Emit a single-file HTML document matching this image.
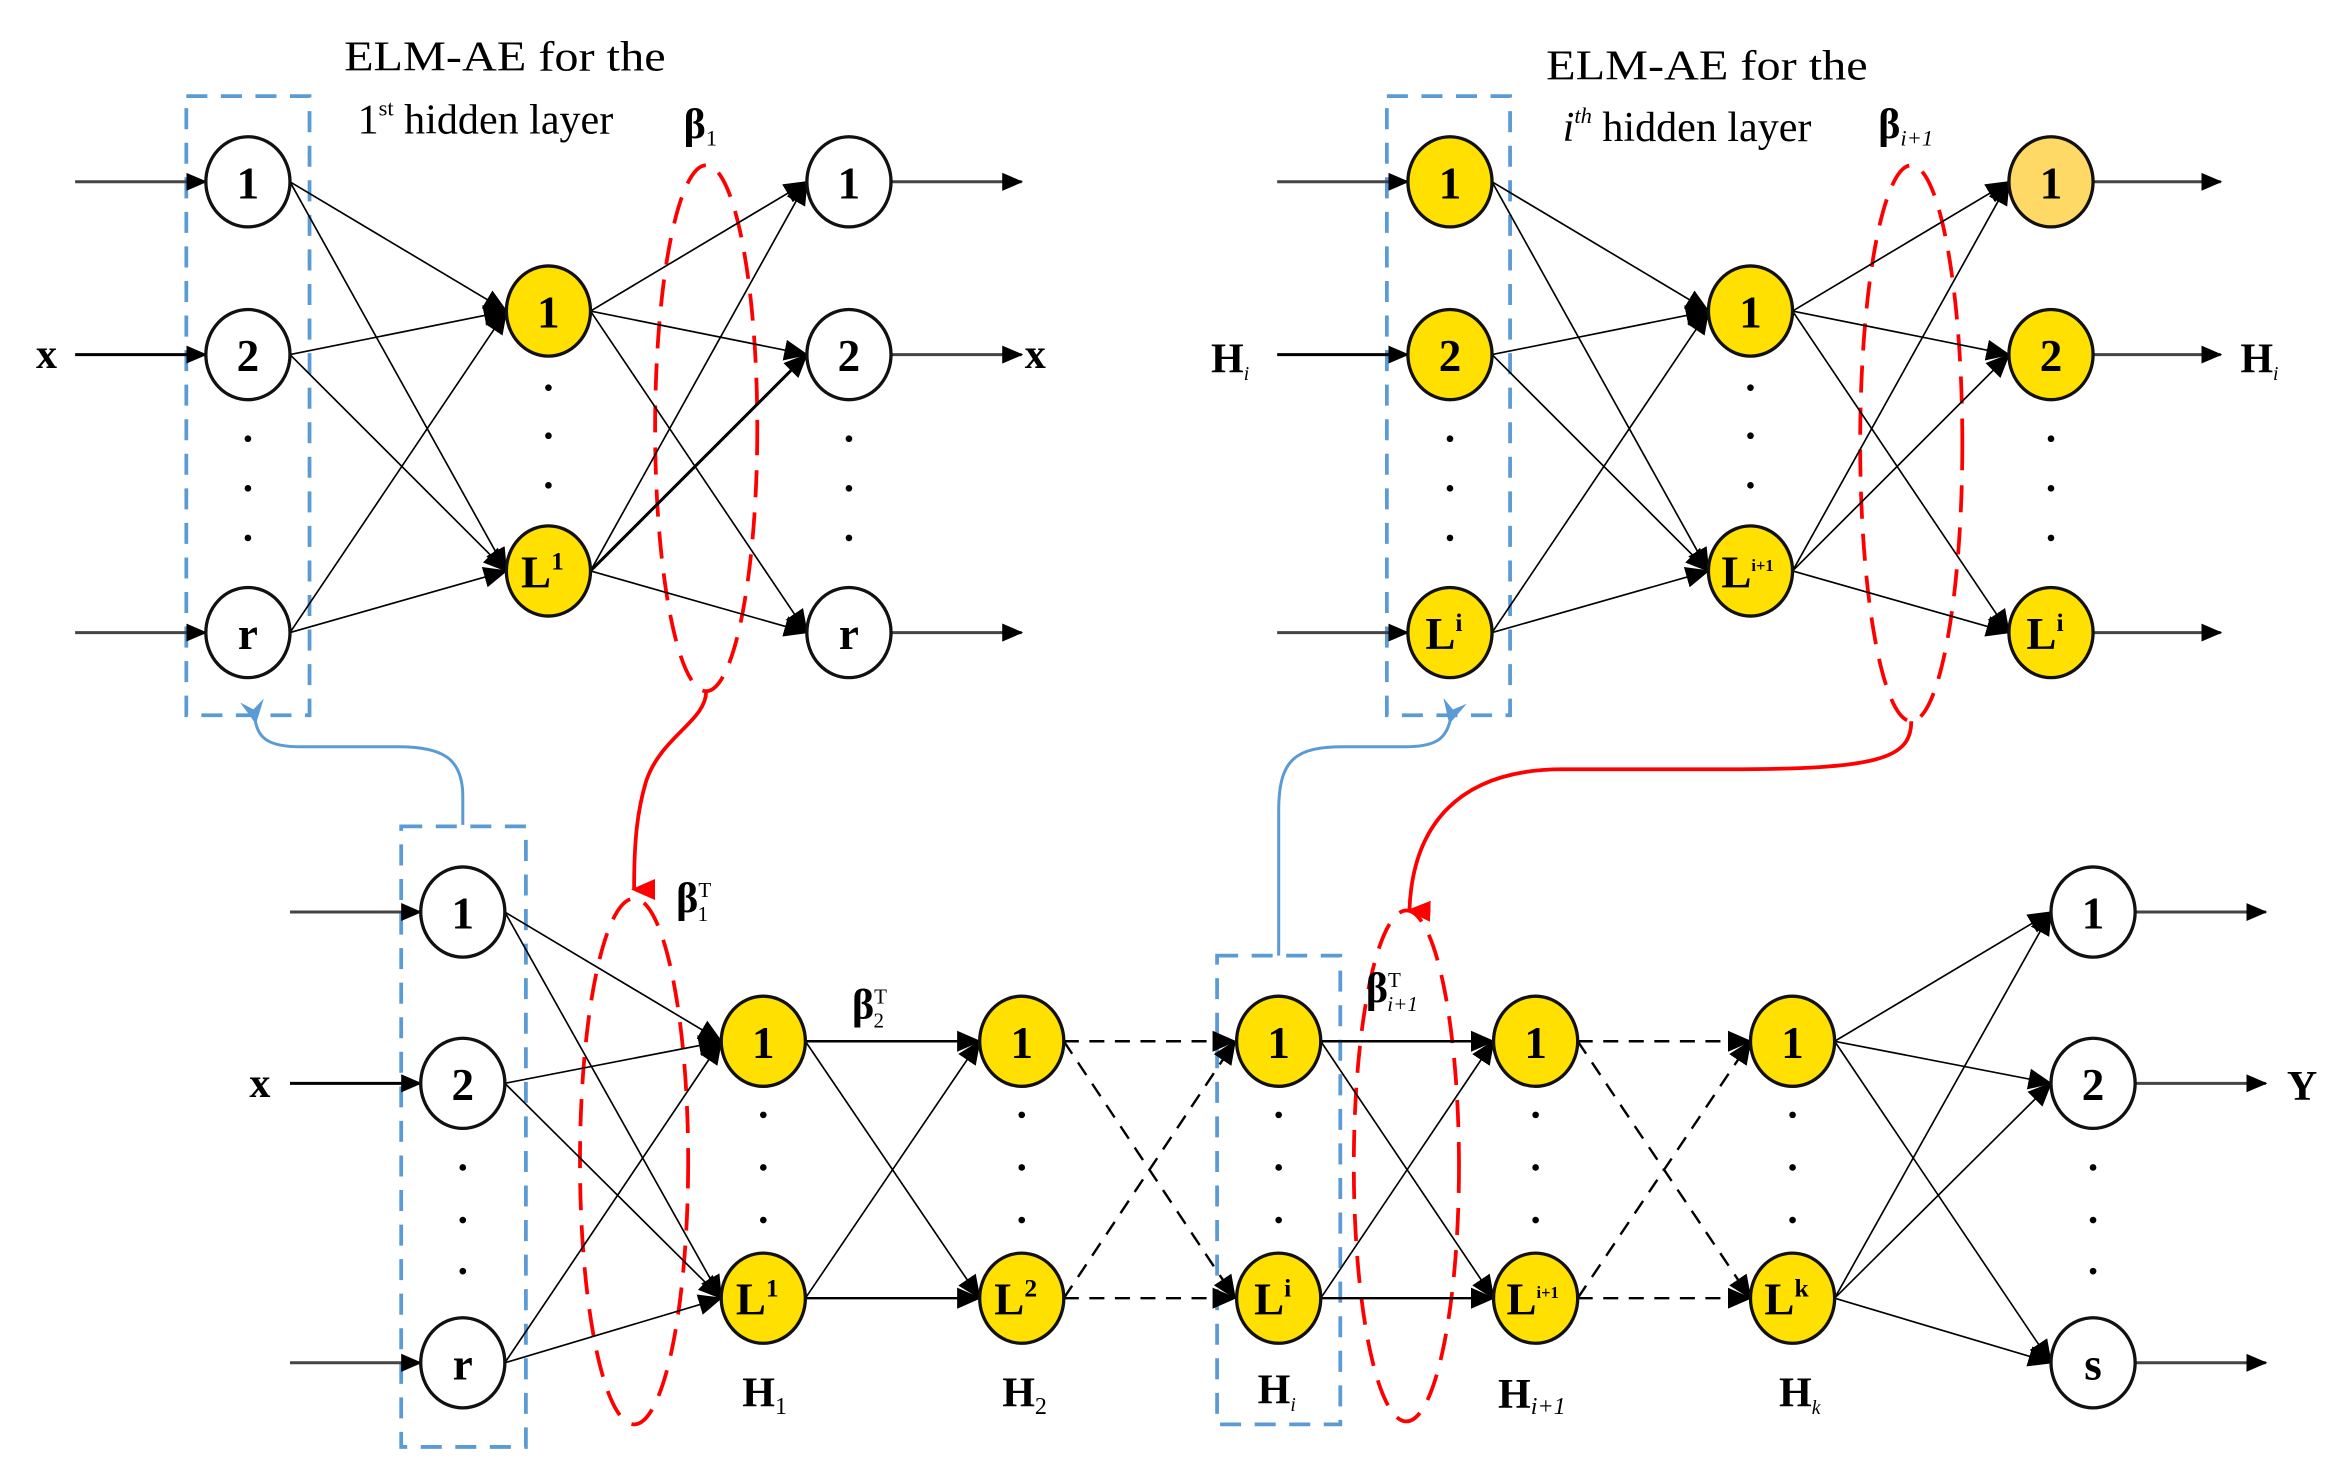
<!DOCTYPE html>
<html><head><meta charset="utf-8"><style>
html,body{margin:0;padding:0;background:#fff;}
svg{display:block;}
text{font-family:"Liberation Serif",serif;}
.n{font-weight:bold;font-size:30px;text-anchor:middle;font-family:"Liberation Serif",serif;}
.lb{font-weight:bold;font-size:28px;}
</style></head><body>
<svg width="2344" height="1483" viewBox="0 0 1560 987" preserveAspectRatio="none" xmlns="http://www.w3.org/2000/svg">
<defs>
<marker id="a" markerWidth="14" markerHeight="14" refX="13" refY="7" orient="auto" markerUnits="userSpaceOnUse" viewBox="0 0 14 14"><path d="M0,1 L14,7 L0,13 z" fill="#000"/></marker>
<marker id="b" markerWidth="16" markerHeight="16" refX="15" refY="8" orient="auto" markerUnits="userSpaceOnUse" viewBox="0 0 16 16"><path d="M0,1 L16,8 L0,15 z" fill="#000"/></marker>
<marker id="r" markerWidth="16" markerHeight="16" refX="8" refY="14" orient="auto" markerUnits="userSpaceOnUse" viewBox="0 0 16 16"><path d="M1,0 L15,0 L8,16 z" fill="#f00"/></marker>
<marker id="bl" markerWidth="18" markerHeight="18" refX="2" refY="9" orient="auto" markerUnits="userSpaceOnUse" viewBox="0 0 18 18"><path d="M16,1 L0,9 L16,17 L10,9 z" fill="#5b9bd5"/></marker>
</defs>

<g fill="none" stroke="#5b9bd5" stroke-width="2.5" stroke-dasharray="14,9">
<rect x="124" y="64" width="82" height="412"/>
<rect x="923" y="64" width="82" height="412"/>
<rect x="267" y="550" width="83" height="413"/>
<rect x="810" y="636" width="82" height="312"/>
</g>
<g fill="none" stroke="#5b9bd5" stroke-width="2">
<path d="M308,549 L308,530 C308,505 295,497 265,497 L200,497 C180,497 172,492 170,480" marker-end="url(#bl)"/>
<path d="M851,636 L851,540 C851,505 862,497 895,497 L935,497 C955,497 962,492 965,480" marker-end="url(#bl)"/>
</g>
<g fill="none" stroke="#f00" stroke-width="2.5" stroke-dasharray="18,10">
<ellipse cx="470" cy="285" rx="34" ry="175"/>
<ellipse cx="1272" cy="295" rx="34" ry="185"/>
<ellipse cx="422" cy="773" rx="36" ry="175"/>
<ellipse cx="936" cy="776" rx="35" ry="170"/>
</g>
<g fill="none" stroke="#f00" stroke-width="2.5">
<path d="M470,460 C470,480 440,490 430,520 C424,540 422,560 422,592" marker-end="url(#r)"/>
<path d="M1272,480 C1272,505 1250,512 1150,512 L1040,512 C970,512 940,550 938,606" marker-end="url(#r)"/>
</g>

<g stroke="#000" stroke-width="1.1" fill="none" marker-end="url(#b)">
<line x1="193" y1="121" x2="337" y2="207"/><line x1="193" y1="121" x2="337" y2="380"/>
<line x1="193" y1="236" x2="337" y2="207"/><line x1="193" y1="236" x2="337" y2="380"/>
<line x1="193" y1="421" x2="337" y2="207"/><line x1="193" y1="421" x2="337" y2="380"/>
<line x1="393" y1="207" x2="537" y2="121"/><line x1="393" y1="207" x2="537" y2="236"/><line x1="393" y1="207" x2="537" y2="421"/>
<line x1="393" y1="380" x2="537" y2="121"/><line x1="393" y1="380" x2="537" y2="236" stroke-width="2"/><line x1="393" y1="380" x2="537" y2="421"/>
<line x1="993" y1="121" x2="1137" y2="207"/><line x1="993" y1="121" x2="1137" y2="380"/>
<line x1="993" y1="236" x2="1137" y2="207"/><line x1="993" y1="236" x2="1137" y2="380"/>
<line x1="993" y1="421" x2="1137" y2="207"/><line x1="993" y1="421" x2="1137" y2="380"/>
<line x1="1193" y1="207" x2="1337" y2="121"/><line x1="1193" y1="207" x2="1337" y2="236"/><line x1="1193" y1="207" x2="1337" y2="421"/>
<line x1="1193" y1="380" x2="1337" y2="121"/><line x1="1193" y1="380" x2="1337" y2="236"/><line x1="1193" y1="380" x2="1337" y2="421"/>
<line x1="336" y1="607" x2="480" y2="693"/><line x1="336" y1="607" x2="480" y2="864"/>
<line x1="336" y1="721" x2="480" y2="693"/><line x1="336" y1="721" x2="480" y2="864"/>
<line x1="336" y1="907" x2="480" y2="693"/><line x1="336" y1="907" x2="480" y2="864"/>
<line x1="536" y1="693" x2="652" y2="693" stroke-width="1.6"/><line x1="536" y1="693" x2="652" y2="864"/>
<line x1="536" y1="864" x2="652" y2="693"/><line x1="536" y1="864" x2="652" y2="864" stroke-width="1.6"/>
<line x1="879" y1="693" x2="994" y2="693" stroke-width="1.6"/><line x1="879" y1="693" x2="994" y2="864"/>
<line x1="879" y1="864" x2="994" y2="693"/><line x1="879" y1="864" x2="994" y2="864" stroke-width="1.6"/>
<line x1="1221" y1="693" x2="1365" y2="607"/><line x1="1221" y1="693" x2="1365" y2="721"/><line x1="1221" y1="693" x2="1365" y2="907"/>
<line x1="1221" y1="864" x2="1365" y2="607"/><line x1="1221" y1="864" x2="1365" y2="721"/><line x1="1221" y1="864" x2="1365" y2="907"/>
</g>
<g stroke="#000" stroke-width="1.6" fill="none" stroke-dasharray="10,7" marker-end="url(#b)">
<line x1="708" y1="693" x2="822" y2="693"/><line x1="708" y1="693" x2="822" y2="864"/>
<line x1="708" y1="864" x2="822" y2="693"/><line x1="708" y1="864" x2="822" y2="864"/>
<line x1="1050" y1="693" x2="1165" y2="693"/><line x1="1050" y1="693" x2="1165" y2="864"/>
<line x1="1050" y1="864" x2="1165" y2="693"/><line x1="1050" y1="864" x2="1165" y2="864"/>
</g>
<g stroke="#444" stroke-width="2" marker-end="url(#a)">
<line x1="50" y1="121" x2="137" y2="121"/><line x1="50" y1="236" x2="137" y2="236" stroke="#000"/><line x1="50" y1="421" x2="137" y2="421"/>
<line x1="593" y1="121" x2="680" y2="121"/><line x1="593" y1="236" x2="680" y2="236"/><line x1="593" y1="421" x2="680" y2="421"/>
<line x1="850" y1="121" x2="937" y2="121"/><line x1="850" y1="236" x2="937" y2="236" stroke="#000"/><line x1="850" y1="421" x2="937" y2="421"/>
<line x1="1393" y1="121" x2="1478" y2="121"/><line x1="1393" y1="236" x2="1478" y2="236"/><line x1="1393" y1="421" x2="1478" y2="421"/>
<line x1="193" y1="607" x2="280" y2="607"/><line x1="193" y1="721" x2="280" y2="721" stroke="#000"/><line x1="193" y1="907" x2="280" y2="907"/>
<line x1="1421" y1="607" x2="1508" y2="607"/><line x1="1421" y1="721" x2="1508" y2="721"/><line x1="1421" y1="907" x2="1508" y2="907"/>
</g>

<g stroke="#111" stroke-width="2.2">
<g fill="#fff">
<ellipse cx="165" cy="121" rx="28" ry="30"/><ellipse cx="165" cy="236" rx="28" ry="30"/><ellipse cx="165" cy="421" rx="28" ry="30"/>
<ellipse cx="565" cy="121" rx="28" ry="30"/><ellipse cx="565" cy="236" rx="28" ry="30"/><ellipse cx="565" cy="421" rx="28" ry="30"/>
<ellipse cx="308" cy="607" rx="28" ry="30"/><ellipse cx="308" cy="721" rx="28" ry="30"/><ellipse cx="308" cy="907" rx="28" ry="30"/>
<ellipse cx="1393" cy="607" rx="28" ry="30"/><ellipse cx="1393" cy="721" rx="28" ry="30"/><ellipse cx="1393" cy="907" rx="28" ry="30"/>
</g>
<g fill="#ffe000">
<ellipse cx="365" cy="207" rx="28" ry="30"/><ellipse cx="365" cy="380" rx="28" ry="30"/>
<ellipse cx="965" cy="121" rx="28" ry="30"/><ellipse cx="965" cy="236" rx="28" ry="30"/><ellipse cx="965" cy="421" rx="28" ry="30"/>
<ellipse cx="1165" cy="207" rx="28" ry="30"/><ellipse cx="1165" cy="380" rx="28" ry="30"/>
<ellipse cx="1365" cy="236" rx="28" ry="30"/><ellipse cx="1365" cy="421" rx="28" ry="30"/>
<ellipse cx="508" cy="693" rx="28" ry="30"/><ellipse cx="508" cy="864" rx="28" ry="30"/>
<ellipse cx="680" cy="693" rx="28" ry="30"/><ellipse cx="680" cy="864" rx="28" ry="30"/>
<ellipse cx="851" cy="693" rx="28" ry="30"/><ellipse cx="851" cy="864" rx="28" ry="30"/>
<ellipse cx="1022" cy="693" rx="28" ry="30"/><ellipse cx="1022" cy="864" rx="28" ry="30"/>
<ellipse cx="1193" cy="693" rx="28" ry="30"/><ellipse cx="1193" cy="864" rx="28" ry="30"/>
</g>
<ellipse cx="1365" cy="121" rx="28" ry="30" fill="#ffd966"/>
</g>

<g>
<text x="165" y="132" class="n">1</text><text x="165" y="247" class="n">2</text><text x="165" y="432" class="n">r</text>
<text x="565" y="132" class="n">1</text><text x="565" y="247" class="n">2</text><text x="565" y="432" class="n">r</text>
<text x="365" y="218" class="n">1</text><text x="361" y="391" class="n">L<tspan font-size="17" dy="-12">1</tspan></text>
<text x="965" y="132" class="n">1</text><text x="965" y="247" class="n">2</text><text x="961" y="432" class="n">L<tspan font-size="17" dy="-12">i</tspan></text>
<text x="1165" y="218" class="n">1</text><text x="1163" y="391" class="n" font-weight="normal">L<tspan font-size="11" dy="-11">i+1</tspan></text>
<text x="1365" y="132" class="n">1</text><text x="1365" y="247" class="n">2</text><text x="1361" y="432" class="n">L<tspan font-size="17" dy="-12">i</tspan></text>
<text x="308" y="618" class="n">1</text><text x="308" y="732" class="n">2</text><text x="308" y="918" class="n">r</text>
<text x="508" y="704" class="n">1</text><text x="504" y="875" class="n">L<tspan font-size="17" dy="-12">1</tspan></text>
<text x="680" y="704" class="n">1</text><text x="676" y="875" class="n">L<tspan font-size="17" dy="-12">2</tspan></text>
<text x="851" y="704" class="n">1</text><text x="847" y="875" class="n">L<tspan font-size="17" dy="-12">i</tspan></text>
<text x="1022" y="704" class="n">1</text><text x="1020" y="875" class="n" font-weight="normal">L<tspan font-size="11" dy="-11">i+1</tspan></text>
<text x="1193" y="704" class="n">1</text><text x="1189" y="875" class="n">L<tspan font-size="17" dy="-12">k</tspan></text>
<text x="1393" y="618" class="n">1</text><text x="1393" y="732" class="n">2</text><text x="1393" y="918" class="n">s</text>
</g>

<g fill="#000">
<circle cx="165" cy="292" r="2.2"/><circle cx="165" cy="325" r="2.2"/><circle cx="165" cy="358" r="2.2"/>
<circle cx="565" cy="292" r="2.2"/><circle cx="565" cy="325" r="2.2"/><circle cx="565" cy="358" r="2.2"/>
<circle cx="365" cy="258" r="2.2"/><circle cx="365" cy="290" r="2.2"/><circle cx="365" cy="323" r="2.2"/>
<circle cx="965" cy="292" r="2.2"/><circle cx="965" cy="325" r="2.2"/><circle cx="965" cy="358" r="2.2"/>
<circle cx="1365" cy="292" r="2.2"/><circle cx="1365" cy="325" r="2.2"/><circle cx="1365" cy="358" r="2.2"/>
<circle cx="1165" cy="258" r="2.2"/><circle cx="1165" cy="290" r="2.2"/><circle cx="1165" cy="323" r="2.2"/>
<circle cx="308" cy="777" r="2.2"/><circle cx="308" cy="812" r="2.2"/><circle cx="308" cy="846" r="2.2"/>
<circle cx="1393" cy="777" r="2.2"/><circle cx="1393" cy="812" r="2.2"/><circle cx="1393" cy="846" r="2.2"/>
<circle cx="508" cy="742" r="2.2"/><circle cx="508" cy="777" r="2.2"/><circle cx="508" cy="812" r="2.2"/>
<circle cx="680" cy="742" r="2.2"/><circle cx="680" cy="777" r="2.2"/><circle cx="680" cy="812" r="2.2"/>
<circle cx="851" cy="742" r="2.2"/><circle cx="851" cy="777" r="2.2"/><circle cx="851" cy="812" r="2.2"/>
<circle cx="1022" cy="742" r="2.2"/><circle cx="1022" cy="777" r="2.2"/><circle cx="1022" cy="812" r="2.2"/>
<circle cx="1193" cy="742" r="2.2"/><circle cx="1193" cy="777" r="2.2"/><circle cx="1193" cy="812" r="2.2"/>
</g>

<g font-size="28">
<text x="229" y="47" textLength="214" lengthAdjust="spacingAndGlyphs">ELM-AE for the</text>
<text x="238" y="89">1<tspan font-size="15" dy="-12">st</tspan><tspan dy="12"> hidden layer</tspan></text>
<text x="1029" y="53" textLength="214" lengthAdjust="spacingAndGlyphs">ELM-AE for the</text>
<text x="1040" y="94"><tspan font-style="italic">i</tspan><tspan font-size="15" dy="-12" font-style="italic">th</tspan><tspan dy="12"> hidden layer</tspan></text>
</g>
<g class="lb">
<text x="455" y="92">β<tspan font-size="15" font-weight="normal" dy="5">1</tspan></text>
<text x="1250" y="92">β<tspan font-size="15" font-weight="normal" font-style="italic" dy="5">i+1</tspan></text>
<text x="450" y="607">β<tspan font-size="14" font-weight="normal" dy="-10">T</tspan><tspan font-size="14" font-weight="normal" dx="-9" dy="16">1</tspan></text>
<text x="567" y="678">β<tspan font-size="14" font-weight="normal" dy="-10">T</tspan><tspan font-size="14" font-weight="normal" dx="-9" dy="16">2</tspan></text>
<text x="909" y="667">β<tspan font-size="14" font-weight="normal" dy="-10">T</tspan><tspan font-size="14" font-weight="normal" font-style="italic" dx="-9" dy="16">i+1</tspan></text>
<text x="24" y="245">x</text>
<text x="682" y="245">x</text>
<text x="166" y="730">x</text>
<text x="1522" y="732">Y</text>
<text x="806" y="248">H<tspan font-size="13" font-style="italic" font-weight="normal" dy="5">i</tspan></text>
<text x="1491" y="248">H<tspan font-size="13" font-style="italic" font-weight="normal" dy="5">i</tspan></text>
<text x="494" y="936">H<tspan font-size="16" font-weight="normal" dy="5">1</tspan></text>
<text x="667" y="936">H<tspan font-size="16" font-weight="normal" dy="5">2</tspan></text>
<text x="837" y="934">H<tspan font-size="13" font-style="italic" font-weight="normal" dy="5">i</tspan></text>
<text x="997" y="937">H<tspan font-size="16" font-weight="normal" font-style="italic" dy="4">i+1</tspan></text>
<text x="1184" y="936">H<tspan font-size="13" font-style="italic" font-weight="normal" dy="5">k</tspan></text>
</g>
</svg>
</body></html>
